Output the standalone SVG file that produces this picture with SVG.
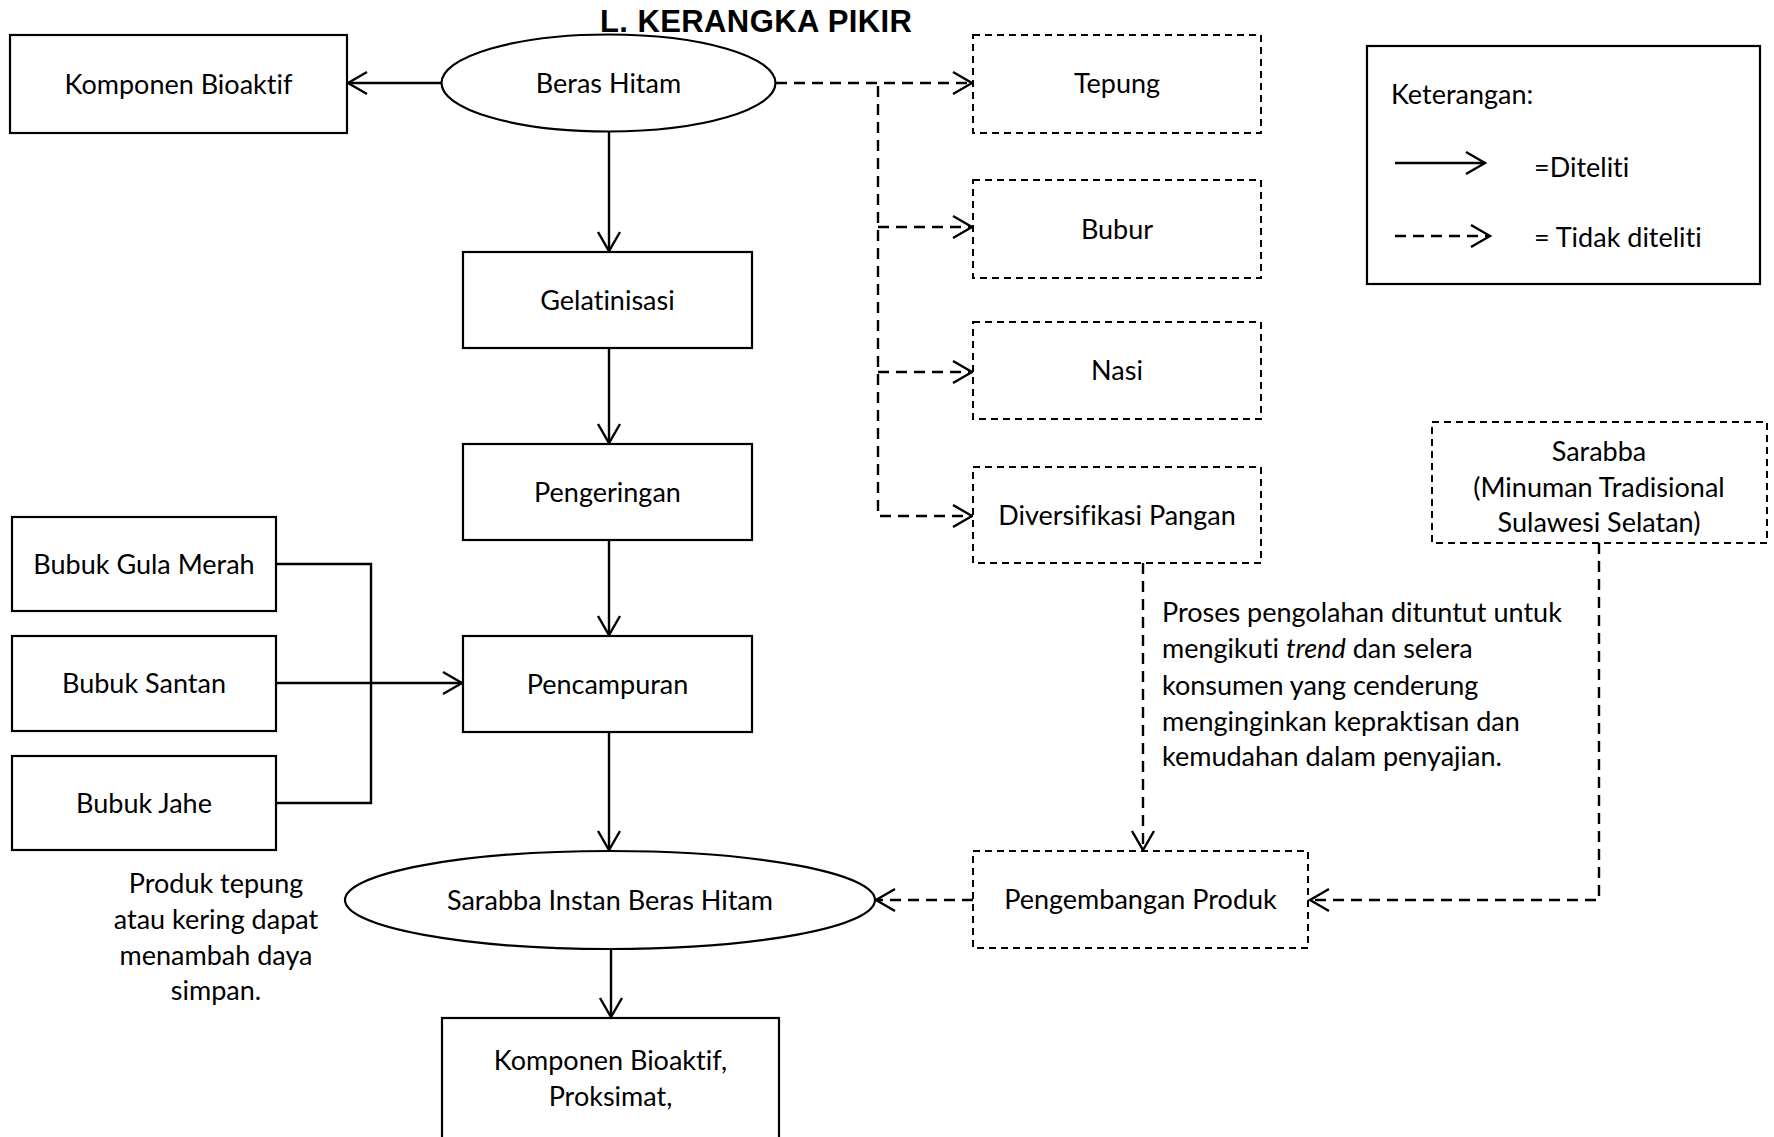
<svg xmlns="http://www.w3.org/2000/svg" width="1774" height="1137" viewBox="0 0 1774 1137">
<defs>
<style>
.t{font-family:Lato,"Noto Sans",sans-serif;font-size:27px;fill:#000;font-variant-ligatures:none;font-feature-settings:"liga" 0,"clig" 0}
.c{text-anchor:middle}
.box{fill:#fff;stroke:#000;stroke-width:2.2}
.dbox{fill:#fff;stroke:#000;stroke-width:2;stroke-dasharray:7 5}
.ln{fill:none;stroke:#000;stroke-width:2.4}
.dl{fill:none;stroke:#000;stroke-width:2.4;stroke-dasharray:11 7}
.title{font-family:"Liberation Sans",Arial,sans-serif;font-weight:bold;font-size:31px;fill:#000}
</style>
<marker id="ah" markerUnits="userSpaceOnUse" markerWidth="24" markerHeight="26" viewBox="0 0 24 26" refX="21" refY="13" orient="auto">
<path d="M2,2 L21,13 L2,24" fill="none" stroke="#000" stroke-width="2.4" stroke-dasharray="none"/>
</marker>
</defs>
<rect width="1774" height="1137" fill="#fff"/>
<text class="title" x="600" y="32" textLength="312">L. KERANGKA PIKIR</text>

<g id="connectors">
<path class="ln" d="M442,83 H348" marker-end="url(#ah)"/>
<path class="ln" d="M609,131 V251" marker-end="url(#ah)"/>
<path class="ln" d="M609,348 V443" marker-end="url(#ah)"/>
<path class="ln" d="M609,540 V635" marker-end="url(#ah)"/>
<path class="ln" d="M609,732 V850" marker-end="url(#ah)"/>
<path class="ln" d="M611,950 V1017" marker-end="url(#ah)"/>
<path class="ln" d="M276,564 H371 V803 H276"/>
<path class="ln" d="M276,683 H462" marker-end="url(#ah)"/>
<path class="dl" d="M776,83 H972" marker-end="url(#ah)"/>
<path class="dl" d="M878,86 V516 H972" marker-end="url(#ah)"/>
<path class="dl" d="M878,227 H972" marker-end="url(#ah)"/>
<path class="dl" d="M878,372 H972" marker-end="url(#ah)"/>
<path class="dl" d="M1143,563 V850" marker-end="url(#ah)"/>
<path class="dl" d="M1599,543 V900 H1310" marker-end="url(#ah)"/>
<path class="dl" d="M973,900 H876" marker-end="url(#ah)"/>
</g>

<g id="komponen-bioaktif">
<rect class="box" x="10" y="35" width="337" height="98"/>
<text class="t c" x="178.5" y="93.5">Komponen Bioaktif</text>
</g>
<g id="beras-hitam">
<ellipse class="box" cx="608.5" cy="83" rx="167" ry="48.5"/>
<text class="t c" x="608.5" y="92.5">Beras Hitam</text>
</g>
<g id="tepung">
<rect class="dbox" x="973" y="35" width="288" height="98"/>
<text class="t c" x="1117" y="93">Tepung</text>
</g>
<g id="bubur">
<rect class="dbox" x="973" y="180" width="288" height="98"/>
<text class="t c" x="1117" y="238.5">Bubur</text>
</g>
<g id="nasi">
<rect class="dbox" x="973" y="322" width="288" height="97"/>
<text class="t c" x="1117" y="380">Nasi</text>
</g>
<g id="diversifikasi-pangan">
<rect class="dbox" x="973" y="467" width="288" height="96"/>
<text class="t c" x="1117" y="525">Diversifikasi Pangan</text>
</g>
<g id="keterangan">
<rect class="box" x="1367" y="46" width="393" height="238"/>
<text class="t" x="1391" y="104">Keterangan:</text>
<path class="ln" d="M1395,163 H1485" marker-end="url(#ah)"/>
<text class="t" x="1534" y="177">=Diteliti</text>
<path class="dl" d="M1395,236 H1490" marker-end="url(#ah)"/>
<text class="t" x="1534" y="247">= Tidak diteliti</text>
</g>
<g id="gelatinisasi">
<rect class="box" x="463" y="252" width="289" height="96"/>
<text class="t c" x="607.5" y="309.5">Gelatinisasi</text>
</g>
<g id="pengeringan">
<rect class="box" x="463" y="444" width="289" height="96"/>
<text class="t c" x="607.5" y="501.5">Pengeringan</text>
</g>
<g id="pencampuran">
<rect class="box" x="463" y="636" width="289" height="96"/>
<text class="t c" x="607.5" y="693.5">Pencampuran</text>
</g>
<g id="bubuk-gula-merah">
<rect class="box" x="12" y="517" width="264" height="94"/>
<text class="t c" x="144" y="573.5">Bubuk Gula Merah</text>
</g>
<g id="bubuk-santan">
<rect class="box" x="12" y="636" width="264" height="95"/>
<text class="t c" x="144" y="693">Bubuk Santan</text>
</g>
<g id="bubuk-jahe">
<rect class="box" x="12" y="756" width="264" height="94"/>
<text class="t c" x="144" y="812.5">Bubuk Jahe</text>
</g>
<g id="catatan-produk">
<text class="t c" x="216" y="893">Produk tepung</text>
<text class="t c" x="216" y="929">atau kering dapat</text>
<text class="t c" x="216" y="965">menambah daya</text>
<text class="t c" x="216" y="1000">simpan.</text>
</g>
<g id="sarabba-instan">
<ellipse class="box" cx="610" cy="900" rx="265" ry="49"/>
<text class="t c" x="610" y="909.5">Sarabba Instan Beras Hitam</text>
</g>
<g id="pengembangan-produk">
<rect class="dbox" x="973" y="851" width="335" height="97"/>
<text class="t c" x="1140.5" y="909">Pengembangan Produk</text>
</g>
<g id="sarabba">
<rect class="dbox" x="1432" y="422" width="335" height="121"/>
<text class="t c" x="1599" y="461">Sarabba</text>
<text class="t c" x="1599" y="497">(Minuman Tradisional</text>
<text class="t c" x="1599" y="532">Sulawesi Selatan)</text>
</g>
<g id="catatan-proses">
<text class="t" x="1162" y="622">Proses pengolahan dituntut untuk</text>
<text class="t" x="1162" y="658">mengikuti <tspan font-style="italic">trend</tspan> dan selera</text>
<text class="t" x="1162" y="695">konsumen yang cenderung</text>
<text class="t" x="1162" y="731">menginginkan kepraktisan dan</text>
<text class="t" x="1162" y="766">kemudahan dalam penyajian.</text>
</g>
<g id="komponen-proksimat">
<rect class="box" x="442" y="1018" width="337" height="140"/>
<text class="t c" x="610.5" y="1070">Komponen Bioaktif,</text>
<text class="t c" x="610.5" y="1106">Proksimat,</text>
</g>
</svg>
